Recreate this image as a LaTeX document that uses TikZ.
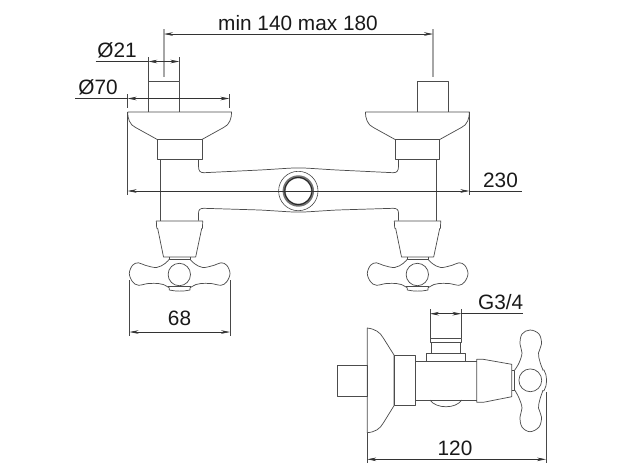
\documentclass[tikz,border=0pt]{standalone}
\usepackage{fontspec}
\setmainfont{Liberation Sans}
\usetikzlibrary{arrows.meta}
\tikzset{
  part/.style={draw=black!70,line width=0.72pt,line join=round},
  ext/.style={draw=black!72,line width=0.65pt},
  gext/.style={draw=black!35,line width=1.1pt},
  dim/.style={draw=black!80,line width=0.6pt},
  dimboth/.style={dim,{Stealth[length=9pt,width=3.6pt]}-{Stealth[length=9pt,width=3.6pt]}},
  dimtext/.style={font=\fontsize{20.8}{22}\selectfont,text=black!90,inner sep=0pt},
  frontvalve/.pic={
    \draw[part] (-23,-53.6) -- (-22.6,-46.3) -- (-21.6,-46) -- (-15.8,-17.6) -- (16.4,-17.6) -- (22.4,-46) -- (23.2,-46.3) -- (23.4,-53.6) -- cycle;
    \draw[part] (-10,-17.6) -- (-10,-15.3) -- (10.7,-15.3) -- (10.7,-17.6);
    \draw[part] plot[smooth,tension=.6] coordinates {(-10,-15.3) (-14.3,-11) (-22.7,-7) (-34.3,-9.3) (-41,-11.7) (-46.7,-9.3) (-50,-1) (-46.7,7.3) (-41,10.7) (-31,9) (-21,9) (-16,10) (-10,13.3)};
    \draw[part] plot[smooth,tension=.6] coordinates {(10.7,-15.3) (15,-11) (23.4,-7) (35,-9.3) (41.7,-11.7) (47.4,-9.3) (50.7,-1) (47.4,7.3) (41.7,10.7) (31.7,9) (21.7,9) (16.7,10) (10.7,13.3)};
    \draw[part] (-10,13.3) -- (-10,15.5) .. controls (-3,17) and (4,17) .. (10.7,15.5) -- (10.7,13.3);
    \draw[part] (-11,11.7) -- (11.7,11.7);
    \draw[part] (0,0) circle (11.2);
  },
  topflange/.pic={
    \draw[part] (-52,0) -- (52,0) .. controls (52,6) and (50,13) .. (44,15.5) -- (25,26) -- (22.3,27.5) -- (-22.3,27.5) -- (-25,26) -- (-44,15.5) .. controls (-50,13) and (-52,6) .. (-52,0);
    \draw[part] (-22.3,27.5) rectangle (22.3,47);
  }
}
\begin{document}
\begin{tikzpicture}[x=1pt,y=-1pt]
\useasboundingbox (0,0) rectangle (620,475);
% flanges and stems
\pic at (179.6,112) {topflange};
\pic at (417.4,112) {topflange};
\draw[part] (148.3,112) -- (148.3,81) -- (179.3,81) -- (179.3,112);
\draw[part] (417.3,112) -- (417.3,81) -- (448.7,81) -- (448.7,112);
% body
\draw[part] (160,159) -- (160,220.7);
\draw[part] (436.3,159) -- (436.3,220.7);
\draw[part] (198.5,159) -- (198.5,166) .. controls (198.5,171) and (200,172.7) .. (204,172.7) -- (260,170) .. controls (280,168.9) and (290,167.9) .. (298.3,167.9) .. controls (307,167.9) and (317,168.9) .. (337,170) -- (393,172.7) .. controls (397,172.7) and (398.5,171) .. (398.5,166) -- (398.5,159);
\draw[part] (198.5,220.7) -- (198.5,213.5) .. controls (198.5,209.5) and (200,208.3) .. (204,208.3) -- (260,210) .. controls (280,211.1) and (290,212.1) .. (298.3,212.1) .. controls (307,212.1) and (317,211.1) .. (337,210) -- (393,208.3) .. controls (397,208.3) and (398.5,209.5) .. (398.5,213.5) -- (398.5,220.7);
% hub
\node[circle,draw=black!72,line width=0.6pt,minimum size=39.4pt,inner sep=0pt] (hub) at (298.3,191) {};
\draw[draw=black!55,line width=3pt] (hub.center) circle (14.2);
\draw[draw=black!85,line width=0.9pt] (hub.center) circle (13.6);
% valves
\pic at (179.3,274.5) {frontvalve};
\pic at (417.3,274.5) {frontvalve};
% side view
\draw[part] (337.3,365) rectangle (367.3,396.7);
\draw[part] (367.3,328) .. controls (375,329) and (380,332) .. (383.3,338) -- (394,355) -- (394,405.7) -- (383.3,423) .. controls (380,429) and (375,432) .. (367.3,432.7) -- cycle;
\draw[part] (394,355) rectangle (415,405.7);
\draw[part] (415,361) -- (476.7,361) (415,400) -- (476.7,400);
\draw[part] (430,338.3) rectangle (461.3,342.3);
\draw[part] (431.3,342.3) -- (431.3,353.3) (460,342.3) -- (460,353.3);
\draw[part] (426.3,361) -- (426.3,353.3) -- (465.3,353.3) -- (465.3,361);
\draw[part] (430,400) .. controls (436,409) and (456,409) .. (461.7,400);
\draw[part] (476.7,359.3) -- (483.3,359.3) -- (511.7,364.3) -- (511.7,396.7) -- (483.3,402.3) -- (476.7,402.3) -- cycle;
\draw[part] (511.7,370) -- (514.7,370) -- (514.7,390) -- (511.7,390);
\draw[part] plot[smooth,tension=.6] coordinates {(514.7,370) (519,363) (522,353) (520,344) (522,334) (530,330) (539,334) (541.5,344) (538.5,353) (540,362) (543,370)};
\draw[part] plot[smooth,tension=.6] coordinates {(514.7,390) (519,398) (522,408) (520,417) (522,427) (530,431.7) (539,427) (541.5,417) (538.5,408) (540,399) (543,390.5)};
\draw[part] (530.3,380.3) circle (11.4);
\draw[part] (542.3,370) -- (544,370) .. controls (547.5,376) and (547.5,385) .. (544,390.7) -- (542.3,390.7);
% dimension coordinates
\coordinate (a1) at (164,34); \coordinate (a2) at (433,34);
\draw[gext] (164,29) -- (164,77);
\draw[gext] (433,29) -- (433,77);
\draw[dimboth] (a1) -- (a2);
\node[dimtext] (tmin) at (298,23) {min 140 max 180};
% O21
\coordinate (b1) at (148.3,61.5); \coordinate (b2) at (179.3,61.5); \coordinate (b0) at (95.7,61.5);
\draw[ext] (148.3,57) -- (148.3,81) (179.3,57) -- (179.3,81);
\draw[dim] (b0) -- (b1);
\draw[dimboth] (b1) -- (b2);
\node[dimtext] (t21) at (117,50.5) {Ø21};
% O70
\coordinate (c1) at (127.7,98.5); \coordinate (c2) at (229.3,98.5); \coordinate (c0) at (75,98.5);
\draw[ext] (127.7,94) -- (127.7,108) (229.3,94) -- (229.3,108);
\draw[dim] (c0) -- (c1);
\draw[dimboth] (c1) -- (c2);
\node[dimtext] (t70) at (98,87) {Ø70};
% 230
\coordinate (d1) at (127.7,191); \coordinate (d2) at (469.3,191); \coordinate (d3) at (521.7,191);
\draw[ext] (127.7,112) -- (127.7,195) (469.3,112) -- (469.3,195);
\draw[dimboth] (d1) -- (d2);
\draw[dim] (d2) -- (d3);
\node[dimtext] (t230) at (500.5,180) {230};
% 68
\coordinate (e1) at (129.5,332); \coordinate (e2) at (230,332);
\draw[ext] (129.5,280) -- (129.5,336) (230,280) -- (230,336);
\draw[dimboth] (e1) -- (e2);
\node[dimtext] (t68) at (179.5,318) {68};
% G3/4
\coordinate (f1) at (430,313.7); \coordinate (f2) at (461.3,313.7); \coordinate (f3) at (522.7,313.7);
\draw[ext] (430,309) -- (430,338.3) (461.3,309) -- (461.3,338.3);
\draw[dimboth] (f1) -- (f2);
\draw[dim] (f2) -- (f3);
\node[dimtext] (tg) at (500.7,302) {G3/4};
% 120
\coordinate (g1) at (367.3,459.3); \coordinate (g2) at (546,459.3);
\draw[ext] (367.3,433) -- (367.3,463) (546,392) -- (546,463);
\draw[dimboth] (g1) -- (g2);
\node[dimtext] (t120) at (455,448) {120};
\end{tikzpicture}
\end{document}
